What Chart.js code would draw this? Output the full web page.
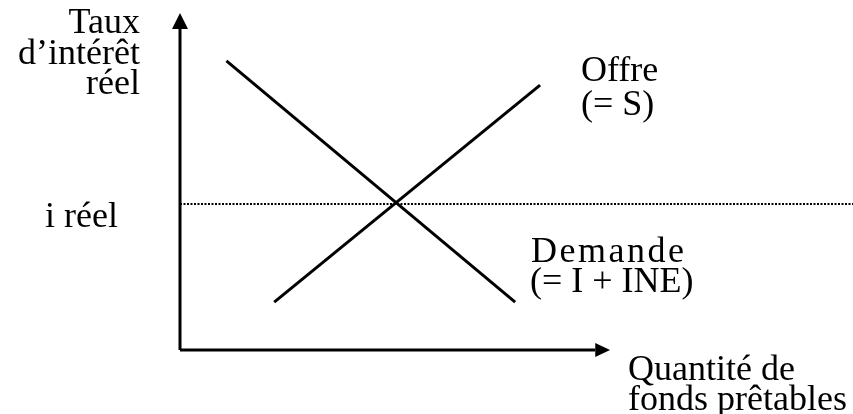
<!DOCTYPE html>
<html>
<head>
<meta charset="utf-8">
<script src="https://cdn.jsdelivr.net/npm/chart.js@4/dist/chart.umd.min.js"></script>
<style>
html,body{margin:0;padding:0;background:#fff;}
#wrap{width:853px;height:414px;position:relative;}
</style>
</head>
<body>
<div id="wrap"><canvas id="c" width="853" height="414"></canvas></div>
<script>
// Data (arbitrary diagram units: x 0..100, y 0..100, origin at the axes corner)
const offreX = [14.0, 53.5];
const offreY = [13.7, 75.7];
const demandeX = [6.9, 49.8];
const demandeY = [82.6, 13.7];
const iReel = 41.7;
const yAxisTop = 91.7, yArrowTip = 96.3;
const xAxisEnd = 61.7, xArrowTip = 63.9;

const yAxisTitle = ["Taux", "d\u2019intérêt", "réel"];
const iReelLabel = "i réel";
const offreLabel = ["Offre", "(= S)"];
const demandeLabel = ["Demande", "(= I + INE)"];
const xAxisTitle = ["Quantité de", "fonds prêtables"];

const toPts = (xs, ys) => xs.map((x, i) => ({x: x, y: ys[i]}));

const FONT = '36px "Liberation Serif", "Times New Roman", serif';

function spacedText(ctx, text, x, y, sp) {
  let cx = x;
  for (const ch of text) {
    ctx.fillText(ch, cx, y);
    cx += ctx.measureText(ch).width + sp;
  }
}

const annot = {
  id: 'annot',
  afterDatasetsDraw(chart) {
    const ctx = chart.ctx;
    const xs = chart.scales.x, ys = chart.scales.y;
    const px = v => xs.getPixelForValue(v), py = v => ys.getPixelForValue(v);
    ctx.save();
    ctx.fillStyle = '#000';
    // arrow heads
    ctx.beginPath();
    ctx.moveTo(px(0), py(yArrowTip));
    ctx.lineTo(px(0) - 8, py(yAxisTop));
    ctx.lineTo(px(0) + 8, py(yAxisTop));
    ctx.closePath();
    ctx.fill();
    ctx.beginPath();
    ctx.moveTo(px(xArrowTip), py(0));
    ctx.lineTo(px(xAxisEnd), py(0) - 7);
    ctx.lineTo(px(xAxisEnd), py(0) + 7);
    ctx.closePath();
    ctx.fill();
    // texts
    ctx.font = FONT;
    ctx.textBaseline = 'alphabetic';
    ctx.textAlign = 'right';
    ctx.fillText(yAxisTitle[0], 140, 33);
    ctx.fillText(yAxisTitle[1], 140, 64);
    ctx.fillText(yAxisTitle[2], 140, 94);
    ctx.textAlign = 'left';
    ctx.fillText(iReelLabel, 45, 227);
    ctx.fillText(offreLabel[0], 581, 81);
    ctx.fillText(offreLabel[1], 581, 115);
    spacedText(ctx, demandeLabel[0], 531, 262, 2.5);
    ctx.fillText(demandeLabel[1], 530, 292);
    ctx.fillText(xAxisTitle[0], 628, 380);
    ctx.fillText(xAxisTitle[1], 628, 410);
    ctx.restore();
  }
};

new Chart(document.getElementById('c'), {
  type: 'scatter',
  data: {
    datasets: [
      {data: [{x: 0, y: 0}, {x: 0, y: yAxisTop}], showLine: true, borderColor: '#000', borderWidth: 3, pointRadius: 0, clip: false},
      {data: [{x: 0, y: 0}, {x: xAxisEnd, y: 0}], showLine: true, borderColor: '#000', borderWidth: 3, pointRadius: 0, clip: false},
      {data: toPts(offreX, offreY), showLine: true, borderColor: '#000', borderWidth: 3, pointRadius: 0, clip: false},
      {data: toPts(demandeX, demandeY), showLine: true, borderColor: '#000', borderWidth: 3, pointRadius: 0, clip: false},
      {data: [{x: 0, y: iReel}, {x: 100, y: iReel}], showLine: true, borderColor: '#000', borderWidth: 2, borderDash: [2, 1.5], pointRadius: 0, clip: false}
    ]
  },
  options: {
    responsive: false,
    animation: false,
    events: [],
    layout: {padding: {left: 180, right: 0, top: 0, bottom: 64}},
    plugins: {legend: {display: false}, tooltip: {enabled: false}},
    scales: {
      x: {type: 'linear', min: 0, max: 100, display: false},
      y: {type: 'linear', min: 0, max: 100, display: false}
    }
  },
  plugins: [annot]
});
</script>
</body>
</html>
